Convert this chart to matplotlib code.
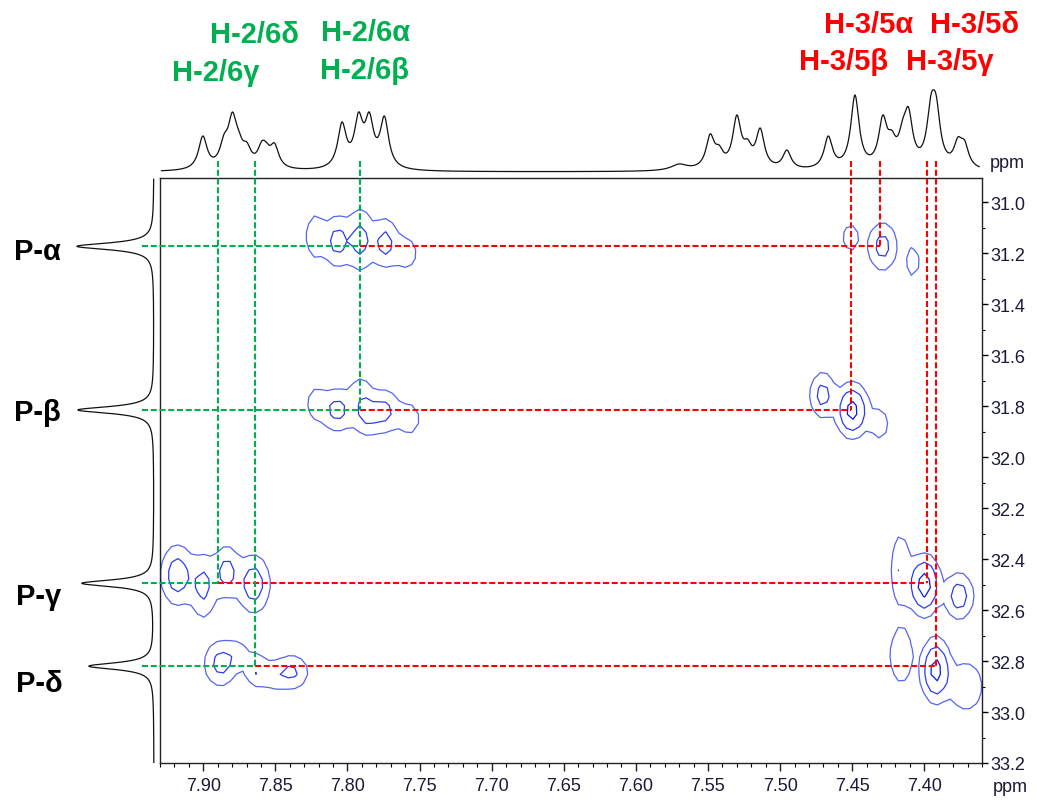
import numpy as np
import matplotlib
matplotlib.use('Agg')
import matplotlib.pyplot as plt
from matplotlib.ticker import MultipleLocator, FormatStrFormatter

plt.rcParams['font.family'] = ['Liberation Sans', 'DejaVu Sans']

# ---------------- data ----------------
x_range = (7.93, 7.36)      # 1H ppm
y_range = (33.2, 30.905)    # 31P ppm

# 1H projection: peak positions, observed heights, half widths
h1_ppm = [7.9003, 7.8856, 7.8798, 7.8755, 7.8698, 7.8594, 7.8564, 7.8506,
          7.8038, 7.7923, 7.7849, 7.7744,
          7.5700, 7.5570, 7.5485, 7.5423, 7.5300, 7.5226, 7.5138, 7.4953,
          7.4666, 7.4481, 7.4288, 7.4226, 7.4150, 7.4110, 7.3953, 7.3918,
          7.3767, 7.3721]
h1_height = [36, 38, 60, 42, 30, 31, 30, 29,
             50, 60, 60, 56,
             8, 8, 38, 27, 57, 33, 44, 22,
             36, 77, 57, 42, 53, 65, 78, 77,
             35, 32]
h1_gamma = [0.0036] * 12 + [0.007, 0.007] + [0.0035] * 16

# 31P projection
p31_ppm = [31.173, 31.815, 32.495, 32.820]
p31_height = [77, 76, 72, 65]
p31_gamma = 0.016
p31_labels = ['P-α', 'P-β', 'P-γ', 'P-δ']

# cross peaks: 1H ppm, 31P ppm, amplitude, widths (ppm)
cp_x = [7.8224, 7.8070, 7.7910, 7.7740, 7.7590,                  # P-α / H-2,6
        7.8070, 7.7870, 7.7740, 7.7910, 7.8220, 7.7570,          # P-β / H-2,6
        7.9180, 7.9000, 7.8837, 7.8650,                          # P-γ / H-2,6
        7.8880, 7.8630, 7.8385, 7.8760, 7.8510,                  # P-δ / H-2,6
        7.4510, 7.4290, 7.4080,                                  # P-α / H-3,5
        7.4705, 7.4500, 7.4310,                                  # P-β / H-3,5
        7.4165, 7.4000, 7.3760,                                  # P-γ / H-3,5
        7.4160, 7.3920, 7.3710]                                  # P-δ / H-3,5
cp_y = [31.134, 31.153, 31.147, 31.160, 31.200,
        31.815, 31.830, 31.820, 31.740, 31.790, 31.850,
        32.463, 32.506, 32.450, 32.498,
        32.810, 32.836, 32.843, 32.770, 32.860,
        31.139, 31.173, 31.233,
        31.756, 31.817, 31.870,
        32.444, 32.502, 32.545,
        32.777, 32.836, 32.900]
cp_amp = [2.9, 3.8, 3.8, 3.8, 1.8,
          3.8, 3.5, 3.5, 1.8, 1.8, 1.8,
          4.5, 3.6, 3.8, 4.5,
          3.8, 2.95, 3.4, 1.5, 1.6,
          1.8, 3.9, 1.8,
          3.9, 7.5, 1.8,
          3.0, 8.0, 4.4,
          3.0, 7.5, 3.0]
cp_sx = [0.0040, 0.0060, 0.0053, 0.0055, 0.0060,
         0.0065, 0.0060, 0.0060, 0.0050, 0.0050, 0.0060,
         0.0065, 0.0055, 0.0055, 0.0065,
         0.0068, 0.0050, 0.0070, 0.0060, 0.0055,
         0.0048, 0.0059, 0.0039,
         0.0052, 0.0060, 0.0050,
         0.0042, 0.0058, 0.0058,
         0.0050, 0.0055, 0.0072]
cp_sy = [0.054, 0.060, 0.072, 0.057, 0.050,
         0.050, 0.050, 0.050, 0.040, 0.050, 0.050,
         0.068, 0.075, 0.060, 0.065,
         0.052, 0.040, 0.040, 0.040, 0.040,
         0.045, 0.056, 0.051,
         0.053, 0.056, 0.050,
         0.090, 0.062, 0.052,
         0.070, 0.066, 0.060]
contour_levels = [1.0, 2.85, 6.0]

# correlations: P signal, H-2/6 ppm, H-3/5 ppm
corr_p = [31.173, 31.815, 32.495, 32.820]
corr_h26 = [7.791, 7.791, 7.890, 7.864]
corr_h35 = [7.431, 7.451, 7.398, 7.392]

green_labels = ['H-2/6δ', 'H-2/6γ', 'H-2/6α', 'H-2/6β']
red_labels = ['H-3/5α', 'H-3/5δ', 'H-3/5β', 'H-3/5γ']

GREEN = '#00B050'
RED = '#FF0000'

# ---------------- figure ----------------
W, H = 1037, 803
fig = plt.figure(figsize=(W / 100, H / 100), dpi=100)

def box(l, t, r, b):
    return [l / W, 1 - b / H, (r - l) / W, (b - t) / H]

ax = fig.add_axes(box(160, 179, 982, 764))
ax_top = fig.add_axes(box(160, 80, 982, 175))
ax_left = fig.add_axes(box(60, 179, 158, 764))

# ---- contour map ----
gx = np.arange(7.94, 7.35, -0.0045)
gy = np.arange(30.88, 33.22, 0.034)
X, Y = np.meshgrid(gx, gy)
Z = np.zeros_like(X)
for x0, y0, a, sx, sy in zip(cp_x, cp_y, cp_amp, cp_sx, cp_sy):
    Z += a * np.exp(-0.5 * ((X - x0) / sx) ** 2 - 0.5 * ((Y - y0) / sy) ** 2)
ax.contour(X, Y, Z, levels=contour_levels,
           colors=['#5465f2', '#2a3cf2', '#0a18e8'], linewidths=0.9, zorder=2)

ax.set_xlim(*x_range)
ax.set_ylim(*y_range)

# ---- correlation lines ----
top_ext = 30.84
left_ext = 7.9425
dash = dict(linewidth=1.5, dashes=(2.9, 1.3), clip_on=False, zorder=3)
for p, h2, h3 in zip(corr_p, corr_h26, corr_h35):
    ax.plot([h3, h3], [top_ext, p], color=RED, **dash)
    ax.plot([h2, h3], [p, p], color=RED, **dash)
    ax.plot([h2, h2], [top_ext, p], color=GREEN, **dash)
    ax.plot([left_ext, h2], [p, p], color=GREEN, **dash)

# ---- axes styling ----
ax.xaxis.set_major_locator(MultipleLocator(0.05))
ax.xaxis.set_minor_locator(MultipleLocator(0.01))
ax.xaxis.set_major_formatter(FormatStrFormatter('%.2f'))
ax.yaxis.set_major_locator(MultipleLocator(0.2))
ax.yaxis.set_minor_locator(MultipleLocator(0.1))
ax.yaxis.set_major_formatter(FormatStrFormatter('%.1f'))
ax.yaxis.tick_right()
ax.tick_params(axis='x', which='major', direction='out', length=6, width=1,
               labelsize=13, pad=4, colors='#222', labelcolor='#1a1a3a')
ax.tick_params(axis='x', which='minor', direction='out', length=3, width=0.8)
ax.tick_params(axis='y', which='major', direction='out', length=4.5, width=1,
               labelsize=13, pad=1.5, labelcolor='#1a1a3a')
ax.tick_params(axis='y', which='minor', direction='out', length=2.5, width=0.8)
for s in ax.spines.values():
    s.set_linewidth(1.0)
    s.set_color('#222')

# ---- top 1H projection ----
h1_ppm_a = np.array(h1_ppm)
h1_g = np.array(h1_gamma)
def lor(x, x0, g):
    return g ** 2 / ((x - x0) ** 2 + g ** 2)
M = lor(h1_ppm_a[:, None], h1_ppm_a[None, :], h1_g[None, :])
amps = np.clip(np.linalg.lstsq(M, np.array(h1_height, float), rcond=None)[0], 0, None)
xs = np.linspace(7.929, 7.362, 3000)
spec = np.zeros_like(xs)
for x0, g, a in zip(h1_ppm_a, h1_g, amps):
    spec += a * lor(xs, x0, g)
ax_top.plot(xs, spec, color='#111', linewidth=0.9)
ax_top.set_xlim(*x_range)
ax_top.set_ylim(-2, 93)
ax_top.axis('off')

# ---- left 31P projection ----
ys = np.linspace(30.91, 33.2, 3000)
pspec = np.zeros_like(ys)
for p0, hh in zip(p31_ppm, p31_height):
    pspec += hh * lor(ys, p0, p31_gamma)
ax_left.plot(pspec, ys, color='#111', linewidth=0.9)
ax_left.set_ylim(*y_range)
ax_left.set_xlim(94, -4)
ax_left.axis('off')

# ---- labels ----
lab = dict(fontsize=21, fontweight='bold', ha='center', va='baseline')
green_pos = [(255, 42.7), (216, 80.7), (366, 40.7), (365, 79)]
for t, (px, py) in zip(green_labels, green_pos):
    fig.text(px / W, 1 - py / H, t, color=GREEN, **lab)
red_pos = [(869, 33.3), (975, 33.3), (844, 70), (950, 70)]
for t, (px, py) in zip(red_labels, red_pos):
    fig.text(px / W, 1 - py / H, t, color=RED, **lab)

p_pos = [(37, 252), (37, 413), (39, 597), (39, 684)]
for t, (px, py) in zip(p31_labels, p_pos):
    fig.text(px / W, 1 - py / H, t, color='black', fontsize=21, fontweight='bold',
             ha='center', va='center')

fig.text(1007 / W, 1 - 163 / H, 'ppm', fontsize=13, color='#1a1a3a', ha='center', va='center')
fig.text(1010 / W, 1 - 788 / H, 'ppm', fontsize=13, color='#1a1a3a', ha='center', va='center')

fig.savefig('out.png', dpi=100)
